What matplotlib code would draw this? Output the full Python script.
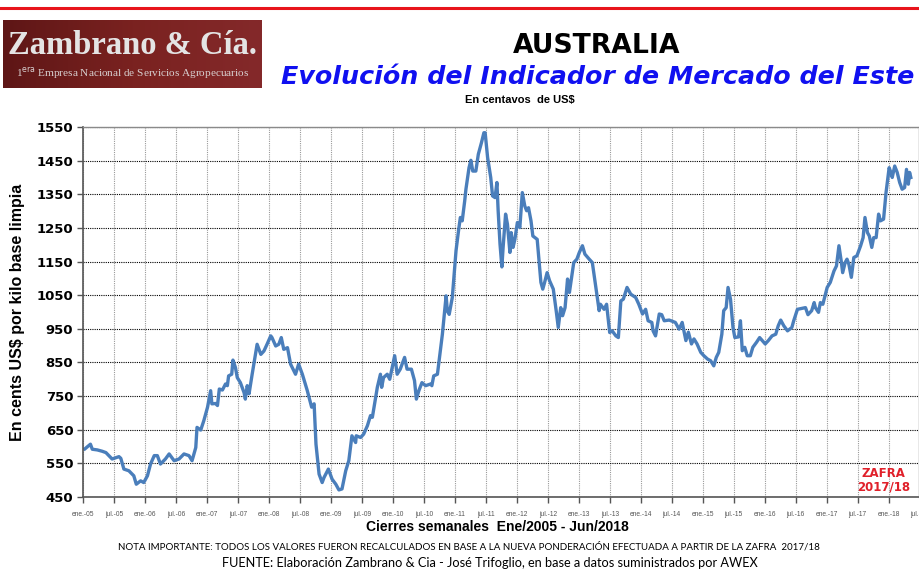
import matplotlib
matplotlib.use('Agg')
import matplotlib.pyplot as plt
import numpy as np

# Weekly closes (decimal year, US cents/kg clean)
years = [2005.03, 2005.12, 2005.15, 2005.23, 2005.31, 2005.37, 2005.47, 2005.53, 2005.58, 2005.61,
         2005.66, 2005.74, 2005.82, 2005.86, 2005.93, 2005.98, 2006.04, 2006.09, 2006.15, 2006.20,
         2006.25, 2006.33, 2006.39, 2006.47, 2006.55, 2006.63, 2006.71, 2006.76, 2006.82, 2006.84,
         2006.90, 2006.95, 2007.01, 2007.06, 2007.08, 2007.14, 2007.17, 2007.20, 2007.25, 2007.30,
         2007.33, 2007.35, 2007.40, 2007.42, 2007.46, 2007.49, 2007.54, 2007.60, 2007.62, 2007.65,
         2007.68, 2007.73, 2007.81, 2007.84, 2007.87, 2007.92, 2007.97, 2008.03, 2008.05, 2008.11,
         2008.16, 2008.20, 2008.24, 2008.30, 2008.35, 2008.43, 2008.48, 2008.54, 2008.62, 2008.69,
         2008.73, 2008.76, 2008.81, 2008.86, 2008.89, 2008.96, 2009.02, 2009.08, 2009.13, 2009.18,
         2009.24, 2009.29, 2009.34, 2009.40, 2009.41, 2009.48, 2009.53, 2009.59, 2009.64, 2009.67,
         2009.75, 2009.80, 2009.82, 2009.85, 2009.91, 2009.95, 2009.99, 2010.03, 2010.07, 2010.12,
         2010.19, 2010.23, 2010.30, 2010.35, 2010.38, 2010.42, 2010.47, 2010.53, 2010.61, 2010.63,
         2010.66, 2010.72, 2010.80, 2010.86, 2010.88, 2010.91, 2010.96, 2011.02, 2011.06, 2011.09,
         2011.12, 2011.16, 2011.18, 2011.23, 2011.26, 2011.29, 2011.34, 2011.38, 2011.43, 2011.47,
         2011.49, 2011.53, 2011.58, 2011.61, 2011.65, 2011.68, 2011.70, 2011.73, 2011.76, 2011.78,
         2011.82, 2011.85, 2011.89, 2011.91, 2011.94, 2011.97, 2012.01, 2012.05, 2012.09, 2012.13,
         2012.16, 2012.19, 2012.23, 2012.26, 2012.33, 2012.39, 2012.42, 2012.45, 2012.49, 2012.53,
         2012.59, 2012.64, 2012.67, 2012.71, 2012.74, 2012.78, 2012.82, 2012.85, 2012.92, 2012.97,
         2013.01, 2013.06, 2013.10, 2013.17, 2013.22, 2013.27, 2013.33, 2013.35, 2013.41, 2013.45,
         2013.50, 2013.54, 2013.60, 2013.64, 2013.68, 2013.72, 2013.78, 2013.84, 2013.92, 2013.97,
         2014.03, 2014.08, 2014.12, 2014.18, 2014.20, 2014.24, 2014.30, 2014.34, 2014.38, 2014.46,
         2014.56, 2014.62, 2014.67, 2014.73, 2014.77, 2014.82, 2014.86, 2014.91, 2014.97, 2015.02,
         2015.08, 2015.13, 2015.18, 2015.22, 2015.26, 2015.31, 2015.34, 2015.38, 2015.41, 2015.45,
         2015.49, 2015.52, 2015.58, 2015.61, 2015.64, 2015.68, 2015.72, 2015.77, 2015.81, 2015.87,
         2015.92, 2016.01, 2016.06, 2016.12, 2016.18, 2016.22, 2016.26, 2016.31, 2016.37, 2016.44,
         2016.47, 2016.53, 2016.61, 2016.66, 2016.70, 2016.76, 2016.80, 2016.82, 2016.87, 2016.90,
         2016.94, 2017.01, 2017.06, 2017.12, 2017.16, 2017.20, 2017.24, 2017.26, 2017.30, 2017.33,
         2017.36, 2017.40, 2017.44, 2017.49, 2017.55, 2017.59, 2017.62, 2017.66, 2017.69, 2017.73,
         2017.76, 2017.80, 2017.84, 2017.87, 2017.92, 2017.96, 2018.01, 2018.03, 2018.06, 2018.10,
         2018.14, 2018.18, 2018.22, 2018.26, 2018.29, 2018.32, 2018.34, 2018.36]
values = [593, 607, 592, 590, 586, 582, 563, 567, 570, 565,
          533, 528, 513, 488, 498, 493, 513, 548, 573, 573,
          548, 563, 578, 558, 563, 578, 573, 558, 597, 657,
          649, 677, 717, 766, 727, 728, 722, 771, 768, 786,
          781, 810, 815, 857, 835, 805, 790, 760, 741, 781,
          757, 815, 904, 889, 874, 884, 904, 929, 924, 899,
          904, 924, 889, 894, 845, 815, 845, 815, 766, 717,
          727, 607, 518, 493, 508, 533, 503, 488, 471, 474,
          528, 558, 632, 612, 632, 627, 637, 662, 692, 687,
          776, 815, 776, 805, 815, 800, 835, 870, 815, 830,
          865, 830, 830, 796, 741, 766, 790, 781, 786, 781,
          810, 815, 934, 1048, 1003, 993, 1043, 1182, 1241, 1281,
          1271, 1330, 1365, 1429, 1451, 1419, 1419, 1469, 1503, 1533,
          1533, 1459, 1400, 1345, 1340, 1385, 1301, 1202, 1134, 1192,
          1291, 1261, 1177, 1236, 1192, 1216, 1266, 1251, 1355, 1315,
          1301, 1310, 1271, 1226, 1216, 1088, 1068, 1088, 1117, 1093,
          1068, 999, 954, 1013, 989, 1013, 1098, 1058, 1147, 1157,
          1177, 1197, 1172, 1157, 1147, 1083, 1004, 1023, 1008, 1023,
          939, 944, 929, 924, 1033, 1038, 1073, 1053, 1043, 1023,
          994, 1008, 974, 969, 944, 929, 994, 992, 974, 976,
          969, 949, 969, 915, 940, 905, 920, 905, 880, 870,
          860, 855, 840, 865, 880, 934, 1004, 1013, 1073, 1038,
          954, 924, 926, 974, 885, 895, 870, 870, 895, 910,
          924, 905, 915, 929, 934, 959, 976, 959, 944, 954,
          974, 1008, 1011, 1013, 992, 1004, 1028, 1013, 999, 1028,
          1023, 1073, 1088, 1122, 1137, 1197, 1147, 1117, 1147, 1157,
          1142, 1103, 1162, 1167, 1197, 1221, 1281, 1236, 1226, 1192,
          1221, 1221, 1291, 1271, 1276, 1355, 1429, 1419, 1400, 1434,
          1415, 1385, 1365, 1370, 1424, 1380, 1415, 1400]

y_ticks = list(range(450, 1551, 100))
x_ticks = [2005 + 0.5 * k for k in range(28)]
x_labels = [('ene.-' if k % 2 == 0 else 'jul.-') + f'{(5 + k // 2):02d}' for k in range(28)]

fig = plt.figure(figsize=(9.2, 5.72), dpi=100)

# red rule at the top
fig.add_artist(plt.Line2D([0, 1], [1 - 8 / 572, 1 - 8 / 572], color='#e8141c', lw=2.2))

# logo box with a left-to-right shading
logo = fig.add_axes([3 / 920, 1 - 88 / 572, 259 / 920, 68 / 572])
grad = np.linspace(0, 1, 256).reshape(1, -1)
from matplotlib.colors import LinearSegmentedColormap
cm_logo = LinearSegmentedColormap.from_list('logo', ['#5e1616', '#7a2220', '#84292a'])
logo.imshow(grad, aspect='auto', cmap=cm_logo, extent=[0, 1, 0, 1])
logo.set_axis_off()
logo.text(0.5, 0.63, 'Zambrano & Cía.', family='Liberation Serif', fontsize=23.5, fontweight='bold',
          color='#e4e4e4', ha='center', va='center', transform=logo.transAxes)
logo.text(0.5, 0.22, r'1$^{\rm era}$ Empresa Nacional de Servicios Agropecuarios',
          family='Liberation Serif', fontsize=8.1, color='#d8d0d0', ha='center', va='center',
          transform=logo.transAxes)

# titles
fig.text(597 / 920, 1 - 46 / 572, 'AUSTRALIA', fontsize=19.2, fontweight='bold', color='black',
         ha='center', va='center')
fig.text(598 / 920, 1 - 77 / 572, 'Evolución del Indicador de Mercado del Este', fontsize=18.3,
         fontweight='bold', fontstyle='italic', color='#1010f0', ha='center', va='center')
fig.text(520 / 920, 1 - 100 / 572, 'En centavos  de US$', family='Liberation Sans', fontsize=8,
         fontweight='bold', ha='center', va='center')

ax = fig.add_axes([83 / 920, 1 - 497 / 572, 836.5 / 920, 370 / 572])
ax.plot(years, values, color='#4a7ebb', lw=2.4, solid_joinstyle='round')

ax.set_xlim(2005, 2018.5)
ax.set_ylim(450, 1550)
ax.set_yticks(y_ticks)
ax.set_yticklabels([str(v) for v in y_ticks], fontsize=9.5, fontweight='bold')
ax.set_xticks(x_ticks)
ax.set_xticklabels(x_labels, fontsize=4.8, color='#555555', family='Liberation Sans')
ax.tick_params(axis='y', length=4, width=1, color='#555555', pad=3)
ax.tick_params(axis='x', length=4, width=1, color='#555555', pad=6)

ax.yaxis.grid(True, color='black', linestyle=(0, (1, 1)), lw=0.8)
ax.xaxis.grid(True, color='#9a9a9a', linestyle=(0, (1, 1)), lw=0.8)
for side in ['left', 'bottom']:
    ax.spines[side].set_color('#555555')
    ax.spines[side].set_linewidth(1.2)
for side in ['top', 'right']:
    ax.spines[side].set_color('#8a8a8a')
    ax.spines[side].set_linewidth(1.0)

ax.set_ylabel('En cents US$ por kilo base limpia', family='Liberation Sans', fontsize=11.5,
              fontweight='bold', labelpad=8)

ax.text(2017.92, 500, 'ZAFRA\n2017/18', color='#e0202a', fontsize=8.5, fontweight='bold',
        ha='center', va='center', linespacing=1.05)

fig.text(497 / 920, 1 - 527 / 572, 'Cierres semanales  Ene/2005 - Jun/2018', family='Liberation Sans',
         fontsize=10, fontweight='bold', ha='center', va='center')
fig.text(469 / 920, 1 - 547 / 572,
         'NOTA IMPORTANTE: TODOS LOS VALORES FUERON RECALCULADOS EN BASE A LA NUEVA PONDERACIÓN '
         'EFECTUADA A PARTIR DE LA ZAFRA  2017/18', family='Lato', fontsize=7.05, ha='center', va='center')
fig.text(490 / 920, 1 - 563 / 572,
         'FUENTE: Elaboración Zambrano & Cia - José Trifoglio, en base a datos suministrados por AWEX',
         family='Lato', fontsize=9.2, ha='center', va='center')

fig.savefig('out.png', dpi=100)
